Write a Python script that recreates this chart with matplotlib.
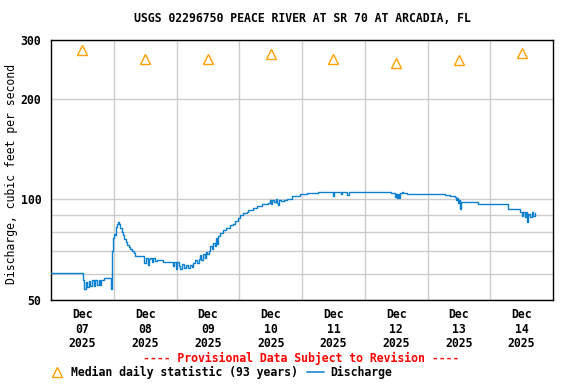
import numpy as np
import matplotlib
matplotlib.use("Agg")
import matplotlib.pyplot as plt
import matplotlib.dates as mdates
from matplotlib.lines import Line2D
from matplotlib.ticker import FixedLocator, NullFormatter

plt.rcParams['font.family'] = ['DejaVu Sans Mono']
plt.rcParams['font.weight'] = 'bold'
FS = 8.3

title = "USGS 02296750 PEACE RIVER AT SR 70 AT ARCADIA, FL"
ylabel = "Discharge, cubic feet per second"

# Discharge: hours after 2025-12-07 00:00 and value (cfs)
hours = [0.0, 12.1, 12.5, 13.3, 13.8, 14.6, 15.1, 15.8, 16.3, 17.0, 17.5, 18.2, 18.7, 19.3,
         20.2, 22.5, 22.9, 23.3, 23.6, 24.0, 24.4, 24.8, 25.2, 25.6,
         26.0, 26.5, 27.0, 27.5, 28.0, 28.6, 29.2, 29.8, 30.4, 31.0, 31.6, 32.2, 35.3, 35.7,
         36.3, 37.0, 37.5, 37.9, 38.6, 39.2, 39.7, 40.6, 42.8, 46.0, 46.5,
         47.1, 47.7, 48.3, 48.9, 49.5, 50.2, 50.9, 51.6, 52.3, 53.0,
         53.8, 54.5, 55.0, 55.8, 56.5, 57.0, 57.5, 58.2, 58.8, 59.4, 59.8,
         60.3, 60.8, 61.4, 62.0, 62.6, 63.2, 63.6, 64.0, 64.6, 65.8, 67.0, 68.5, 69.5,
         70.5, 71.6, 72.3, 73.5, 74.9, 75.5, 77.3, 78.7, 80.6, 83.1, 83.6, 84.2, 84.7,
         85.3, 85.9, 86.3, 86.7, 87.2, 88.0, 89.1, 90.2, 92.0, 95.2, 97.8, 102.2,
         107.5, 107.9, 108.3, 109.1, 110.3, 111.0, 111.4, 113.0, 113.4, 113.8, 129.7,
         130.0, 131.0, 131.5, 131.9, 132.3, 132.7, 133.1, 133.5, 134.3, 134.8, 136.2, 150.7,
         152.6, 154.5, 154.9, 155.3, 155.7, 156.1, 156.5, 156.9, 157.6, 163.3, 174.8, 179.4,
         180.0, 180.5, 181.1, 181.6, 182.2, 182.6, 183.2, 183.8, 184.4, 185.1]
discharge = [60.3, 57.5, 54.0, 56.5, 54.5, 57.0, 55.0, 57.5, 55.0, 57.5, 55.5, 57.5, 55.5, 57.5,
             58.0, 58.0, 54.0, 70.0, 76.5, 79.0, 78.0, 82.5, 84.5, 85.5,
             84.5, 82.0, 80.0, 78.0, 76.0, 74.5, 73.0, 72.0, 71.0, 70.0, 69.3, 67.8, 67.8, 64.5,
             67.0, 63.5, 66.5, 67.0, 65.0, 67.0, 65.5, 66.0, 65.1, 65.1, 63.0,
             64.8, 62.0, 65.0, 63.0, 61.8, 64.0, 62.5, 63.8, 62.5, 63.5,
             62.8, 64.4, 65.9, 64.5, 66.5, 68.0, 66.0, 68.5, 67.0, 69.6, 68.5,
             70.0, 72.5, 71.0, 74.0, 72.5, 76.5, 73.5, 77.5, 79.1, 80.8, 82.0, 83.6, 84.5,
             86.0, 88.1, 89.8, 90.8, 92.0, 92.7, 94.4, 95.7, 96.9, 97.8, 99.5, 97.0, 99.8,
             98.0, 100.0, 97.8, 96.5, 99.5, 99.0, 99.8, 100.5, 102.2, 103.8, 104.8, 105.5,
             105.5, 102.5, 105.3, 105.5, 105.0, 103.5, 105.5, 105.5, 103.0, 105.6, 105.6,
             104.6, 104.2, 102.0, 104.0, 100.8, 103.5, 101.0, 104.5, 105.0, 104.3, 103.8, 103.3,
             102.2, 101.5, 99.5, 101.0, 97.5, 99.8, 93.8, 98.5, 97.9, 96.6, 93.6, 92.0,
             89.5, 92.0, 88.5, 91.5, 85.8, 90.5, 88.5, 92.0, 89.5, 91.1]

median_days = ["2025-12-07", "2025-12-08", "2025-12-09", "2025-12-10",
               "2025-12-11", "2025-12-12", "2025-12-13", "2025-12-14"]
median_vals = [280, 263, 263, 273, 263, 256, 262, 275]

ytick_vals = [50, 60, 70, 80, 90, 100, 200, 300]
ytick_labels = ["50", "", "", "", "", "100", "200", "300"]

start = np.datetime64("2025-12-07T00:00")
t = start + (np.array(hours) * 60).astype(int).astype("timedelta64[m]")
mt = np.array(median_days, dtype="datetime64[D]") + np.timedelta64(12, "h")

fig = plt.figure(figsize=(5.76, 3.84), dpi=100)
ax = fig.add_axes([51/576, 1 - 300/384, 502/576, 260/384])

ax.plot(t, discharge, drawstyle="steps-post", color="#0a80d0", lw=1.0, label="Discharge", zorder=3)
ax.plot(mt, median_vals, linestyle="none", marker="^", markersize=7.5, markerfacecolor="none",
        markeredgecolor="#ffa000", markeredgewidth=1.0, label="Median daily statistic (93 years)", zorder=4)

ax.set_yscale("log")
ax.set_ylim(50, 300)
ax.yaxis.set_major_locator(FixedLocator(ytick_vals))
ax.yaxis.set_minor_locator(FixedLocator([]))
ax.set_yticklabels(ytick_labels)
ax.yaxis.set_minor_formatter(NullFormatter())

ax.set_xlim(np.datetime64("2025-12-07T00:00"), np.datetime64("2025-12-15T00:00"))
day_starts = np.arange(np.datetime64("2025-12-08"), np.datetime64("2025-12-15"), dtype="datetime64[D]")
ax.set_xticks(mdates.date2num(day_starts.astype("datetime64[m]")))
ax.set_xticklabels([])
ax.set_xticks(mdates.date2num(mt.astype("datetime64[m]")), minor=True)
ax.set_xticklabels([f"Dec\n{d[-2:]}\n2025" for d in median_days], minor=True)

ax.grid(True, which="major", color="#cccccc", lw=1.0)
ax.set_axisbelow(True)
ax.tick_params(axis="both", which="both", length=0, labelsize=FS)
ax.tick_params(axis="y", pad=7)
ax.tick_params(axis="x", which="minor", pad=6)
for lab in ax.get_xticklabels(minor=True):
    lab.set_linespacing(1.15)
for s in ax.spines.values():
    s.set_color("black")
    s.set_linewidth(1.0)

ax.set_ylabel(ylabel, fontsize=FS, va="center")
ax.yaxis.set_label_coords((12 - 51) / 502, (300 - 174) / 260)
fig.text(302/576, 1 - 19/384, title, ha="center", va="center", fontsize=FS)
fig.text(301/576, 1 - 358/384, "---- Provisional Data Subject to Revision ----",
         ha="center", va="center", fontsize=FS, color="red")

handles = [Line2D([], [], linestyle="none", marker="^", markersize=7.5, markerfacecolor="none",
                  markeredgecolor="#ffa000", markeredgewidth=1.0),
           Line2D([], [], color="#0a80d0", lw=1.1)]
fig.legend(handles, ["Median daily statistic (93 years)", "Discharge"], ncol=2, frameon=False,
           fontsize=FS, loc="center left", bbox_to_anchor=(48/576, 1 - 372/384),
           handlelength=1.5, handletextpad=0.5, columnspacing=0.8, borderpad=0, borderaxespad=0)

fig.savefig("out.png", dpi=100)
